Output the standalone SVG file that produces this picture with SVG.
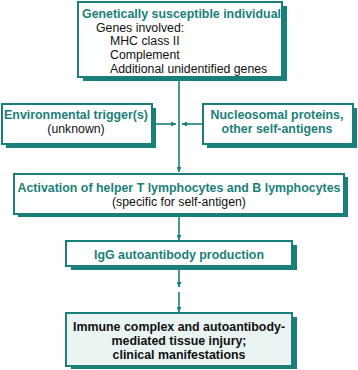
<svg xmlns="http://www.w3.org/2000/svg" width="358" height="370" viewBox="0 0 358 370">
<defs>
<style>
.box{fill:#ffffff;stroke:#1b7f79;stroke-width:2}
.shadow{fill:#1b7f79}
.tb{font-family:"Liberation Sans",Arial,sans-serif;font-size:12.4px;font-weight:bold;fill:#1b7f79}
.tn{font-family:"Liberation Sans",Arial,sans-serif;font-size:12.3px;fill:#111111}
.tk{font-family:"Liberation Sans",Arial,sans-serif;font-size:12.4px;font-weight:bold;fill:#111111}
.c{text-anchor:middle}
.line{stroke:#1b7f79;stroke-width:1.6;fill:none}
</style>
<marker id="ah" viewBox="0 0 10 10" refX="10" refY="5" markerWidth="5" markerHeight="5" orient="auto" markerUnits="userSpaceOnUse">
<path d="M0,0 L10,5 L0,10 z" fill="#1b7f79"/>
</marker>
</defs>
<rect width="358" height="370" fill="#ffffff"/>
<g id="connectors">
<line class="line" x1="179" y1="81" x2="179" y2="172" marker-end="url(#ah)"/>
<line class="line" x1="156" y1="124" x2="176" y2="124" marker-end="url(#ah)"/>
<line class="line" x1="203" y1="124" x2="182" y2="124" marker-end="url(#ah)"/>
<line class="line" x1="179" y1="217" x2="179" y2="240" marker-end="url(#ah)"/>
<line class="line" x1="179" y1="270" x2="179" y2="287" marker-end="url(#ah)"/>
<line class="line" x1="179" y1="292" x2="179" y2="312" marker-end="url(#ah)"/>
</g>
<g id="genetic">
<rect class="shadow" x="83" y="6" width="204" height="75"/>
<rect class="box" x="78" y="2" width="204" height="75"/>
<text class="tb" x="82" y="17.5">Genetically susceptible individual</text>
<text class="tn" x="96" y="31.5">Genes involved:</text>
<text class="tn" x="110" y="45">MHC class II</text>
<text class="tn" x="110" y="58.5">Complement</text>
<text class="tn" x="110" y="72.5">Additional unidentified genes</text>
</g>
<g id="environmental">
<rect class="shadow" x="6" y="108" width="150" height="40"/>
<rect class="box" x="2" y="104" width="150" height="40"/>
<text class="tb c" x="76" y="118.5">Environmental trigger(s)</text>
<text class="tn c" x="76" y="132.5">(unknown)</text>
</g>
<g id="nucleosomal">
<rect class="shadow" x="207" y="108" width="150" height="40"/>
<rect class="box" x="203" y="104" width="150" height="40"/>
<text class="tb c" x="277" y="118.5">Nucleosomal proteins,</text>
<text class="tb c" x="277" y="132.5">other self-antigens</text>
</g>
<g id="activation">
<rect class="shadow" x="18" y="177" width="330" height="40"/>
<rect class="box" x="14" y="174" width="330" height="40"/>
<text class="tb c" x="179" y="191.5">Activation of helper T lymphocytes and B lymphocytes</text>
<text class="tn c" x="179" y="206">(specific for self-antigen)</text>
</g>
<g id="igg">
<rect class="shadow" x="71" y="245" width="226" height="25"/>
<rect class="box" x="66" y="241" width="226" height="25"/>
<text class="tb c" x="179" y="258.5">IgG autoantibody production</text>
</g>
<g id="injury">
<rect class="shadow" x="71" y="317" width="226" height="52"/>
<rect class="box" x="66" y="313" width="226" height="53" style="fill:#e9f4f3"/>
<text class="tk c" x="179" y="331">Immune complex and autoantibody-</text>
<text class="tk c" x="179" y="345">mediated tissue injury;</text>
<text class="tk c" x="179" y="359">clinical manifestations</text>
</g>
</svg>
